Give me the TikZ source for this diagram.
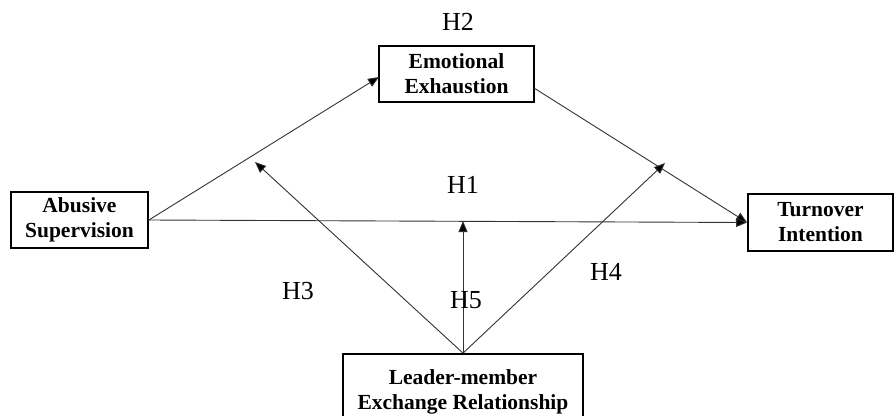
\documentclass[tikz,border=0pt]{standalone}
\usepackage{fontspec}
\setmainfont{Liberation Serif}
\usetikzlibrary{arrows.meta,calc}
\begin{document}
\begin{tikzpicture}[x=1pt,y=-1pt,
  boxfont/.style={font=\bfseries\fontsize{21.5}{25}\selectfont},
  box/.style={draw, line width=1.8pt, boxfont, align=center, inner sep=0pt},
  hl/.style={font=\fontsize{26}{30}\selectfont, inner sep=0pt},
  conn/.style={line width=0.9pt, draw=black!80, -{Triangle[length=11pt,width=9pt,fill=black]}}]
\fill[white] (0,0) rectangle (896,415);
\clip (0,0) rectangle (896,415);
\node[box, minimum width=137pt, minimum height=56pt] (ab) at (79.5,220) {Abusive\\Supervision};
\node[box, minimum width=155pt, minimum height=56pt] (ee) at (456.5,74) {Emotional\\Exhaustion};
\node[box, minimum width=145pt, minimum height=57pt] (ti) at (820.5,222.5) {Turnover\\Intention};
\node[box, minimum width=240pt, minimum height=90pt] (lmx) at (463,399) {};
\node[boxfont, align=center, inner sep=0pt] (lmxt) at (463,392) {Leader-member\\Exchange Relationship};
\coordinate (eein) at (379,77);
\coordinate (eeout) at (534,88);
\coordinate (h3tip) at (255,162);
\coordinate (h5tip) at (463,221);
\coordinate (h4tip) at (665,163);
\draw[conn] (ab.east) -- (eein);
\draw[conn] (eeout) -- (ti.west);
\draw[conn] (ab.east) -- (ti.west);
\draw[conn] (lmx.north) -- (h3tip);
\draw[conn] (lmx.north) -- (h5tip);
\draw[conn] (lmx.north) -- (h4tip);
\node[hl] (H2) at (458,22) {H2};
\node[hl] (H1) at (463,185) {H1};
\node[hl] (H3) at (298,291) {H3};
\node[hl] (H5) at (466,300) {H5};
\node[hl] (H4) at (606,272) {H4};
\end{tikzpicture}
\end{document}
